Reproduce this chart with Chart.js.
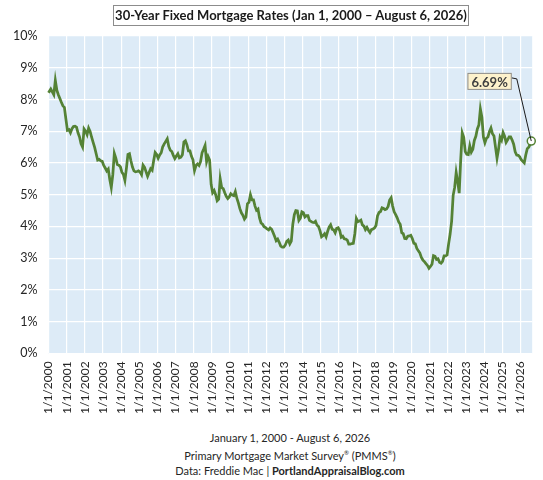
<!DOCTYPE html>
<html>
<head>
<meta charset="utf-8">
<script src="https://cdn.jsdelivr.net/npm/chart.js@4.4.1/dist/chart.umd.min.js"></script>
<style>
  html, body { margin:0; padding:0; background:#fff; }
  body { width:543px; height:480px; position:relative; overflow:hidden; font-family: Lato, "Open Sans", sans-serif; color:#262626; }
  #title { position:absolute; top:5px; left:113px; width:356px; height:21px; border:1px solid #8c8c8c; box-sizing:border-box;
           font-weight:bold; font-size:13px; line-height:19px; text-align:center; color:#1a1a1a; white-space:nowrap; }
  #wrap { position:absolute; left:0; top:0; width:543px; height:428px; }
  #footer { position:absolute; left:0; top:430px; width:580px; text-align:center; font-size:11px; line-height:15px; color:#262626; }
  #footer sup { font-size:6px; }
</style>
</head>
<body>
<div id="wrap"><canvas id="c"></canvas></div>
<div id="title">30-Year Fixed Mortgage Rates (Jan 1, 2000 – August 6, 2026)</div>
<div id="footer">
  January 1, 2000 - August 6, 2026<br>
  Primary Mortgage Market Survey<sup>®</sup> (PMMS<sup>®</sup>)<br>
  Data: Freddie Mac | <b>PortlandAppraisalBlog.com</b>
</div>
<script>
// Monthly 30-year fixed rate (%), Jan 2000 .. Jul 2026
const startYear = 2000;
const monthlyRates = [
  8.21, 8.33, 8.24, 8.15, 8.60, 8.29, 8.15, 8.03, 7.91, 7.80, 7.75, 7.38, // 2000
  7.03, 7.05, 6.95, 7.08, 7.15, 7.16, 7.13, 6.95, 6.82, 6.60, 6.50, 7.07, // 2001
  7.00, 6.89, 7.10, 6.99, 6.81, 6.65, 6.49, 6.29, 6.09, 6.11, 6.07, 6.05, // 2002
  5.92, 5.84, 5.75, 5.81, 5.48, 5.23, 5.63, 6.30, 6.15, 5.95, 5.93, 5.88, // 2003
  5.71, 5.64, 5.45, 5.83, 6.27, 6.29, 6.06, 5.87, 5.75, 5.72, 5.73, 5.75, // 2004
  5.71, 5.63, 5.93, 5.86, 5.72, 5.58, 5.70, 5.82, 5.77, 6.07, 6.33, 6.27, // 2005
  6.15, 6.25, 6.32, 6.51, 6.60, 6.68, 6.76, 6.52, 6.40, 6.36, 6.24, 6.14, // 2006
  6.22, 6.29, 6.16, 6.18, 6.26, 6.66, 6.70, 6.57, 6.38, 6.38, 6.21, 6.10, // 2007
  5.76, 5.92, 5.97, 5.92, 6.04, 6.32, 6.43, 6.55, 6.04, 6.20, 6.09, 5.33, // 2008
  5.06, 5.13, 5.00, 4.81, 4.86, 5.50, 5.22, 5.19, 5.06, 4.95, 4.88, 4.93, // 2009
  5.03, 4.99, 4.97, 5.10, 4.89, 4.74, 4.56, 4.43, 4.35, 4.23, 4.30, 4.71, // 2010
  4.76, 5.00, 4.84, 4.84, 4.64, 4.51, 4.55, 4.27, 4.11, 4.07, 3.99, 3.96, // 2011
  3.92, 3.89, 3.95, 3.91, 3.80, 3.68, 3.55, 3.60, 3.50, 3.38, 3.35, 3.35, // 2012
  3.41, 3.53, 3.57, 3.45, 3.54, 4.07, 4.37, 4.50, 4.49, 4.19, 4.26, 4.46, // 2013
  4.43, 4.30, 4.34, 4.34, 4.19, 4.16, 4.13, 4.12, 4.16, 4.04, 4.00, 3.86, // 2014
  3.67, 3.71, 3.77, 3.67, 3.84, 3.98, 4.05, 3.91, 3.89, 3.80, 3.94, 3.96, // 2015
  3.87, 3.66, 3.69, 3.61, 3.60, 3.57, 3.44, 3.44, 3.46, 3.47, 3.77, 4.25, // 2016
  4.15, 4.17, 4.20, 4.05, 4.01, 3.90, 3.97, 3.88, 3.81, 3.90, 3.92, 3.95, // 2017
  4.03, 4.33, 4.44, 4.47, 4.59, 4.57, 4.53, 4.55, 4.63, 4.83, 4.90, 4.64, // 2018
  4.46, 4.37, 4.27, 4.14, 4.07, 3.80, 3.77, 3.62, 3.61, 3.69, 3.70, 3.72, // 2019
  3.62, 3.47, 3.45, 3.31, 3.23, 3.16, 3.02, 2.94, 2.89, 2.83, 2.77, 2.68, // 2020
  2.74, 2.81, 3.08, 3.06, 2.96, 2.98, 2.87, 2.84, 2.90, 3.07, 3.07, 3.10, // 2021
  3.45, 3.76, 4.17, 4.98, 5.23, 5.70, 5.41, 5.05, 6.11, 6.95, 6.81, 6.36, // 2022
  6.27, 6.26, 6.54, 6.34, 6.43, 6.71, 6.84, 7.07, 7.20, 7.70, 7.44, 6.82, // 2023
  6.64, 6.78, 6.82, 6.99, 7.10, 6.92, 6.85, 6.50, 6.15, 6.43, 6.81, 6.72, // 2024
  6.96, 6.84, 6.65, 6.73, 6.82, 6.82, 6.72, 6.59, 6.35, 6.25, 6.24, 6.19, // 2025
  6.10, 6.05, 6.00, 6.25, 6.45, 6.50, 6.60                                // 2026
];
const lastDate = [2026, 8, 6];
const lastRate = 6.69;
const yearTicks = [2000,2001,2002,2003,2004,2005,2006,2007,2008,2009,2010,2011,2012,2013,
                   2014,2015,2016,2017,2018,2019,2020,2021,2022,2023,2024,2025,2026];
const pctTicks = [0,1,2,3,4,5,6,7,8,9,10];

// build points (decimal year, rate)
const pts = monthlyRates.map((r, i) => ({ x: startYear + (i + 0.5) / 12, y: r }));
pts[0].x = startYear;
const dayOfYear = (Date.UTC(lastDate[0], lastDate[1]-1, lastDate[2]) - Date.UTC(lastDate[0],0,1)) / 86400000;
const lastX = lastDate[0] + dayOfYear / 365;
pts.push({ x: lastX, y: lastRate });
const lastIdx = pts.length - 1;

const GREEN = '#548235';

const bgPlugin = {
  id: 'plotbg',
  beforeDraw(chart) {
    const a = chart.chartArea, ctx = chart.ctx;
    ctx.save(); ctx.fillStyle = '#DDEBF7';
    ctx.fillRect(a.left, a.top, a.right - a.left, a.bottom - a.top);
    ctx.restore();
  }
};

const labelPlugin = {
  id: 'lastLabel',
  afterDatasetsDraw(chart) {
    const xs = chart.scales.x, ys = chart.scales.y, ctx = chart.ctx;
    const px = xs.getPixelForValue(lastX), py = ys.getPixelForValue(lastRate);
    const text = lastRate.toFixed(2) + '%';
    ctx.save();
    ctx.font = 'bold 13px Lato, "Open Sans", sans-serif';
    const tw = ctx.measureText(text).width;
    const bx = xs.getPixelForValue(2024.3), by = ys.getPixelForValue(8.57);
    const w = tw + 8, h = 17;
    const left = bx - w / 2, top = by - h / 2;
    // leader line
    ctx.strokeStyle = '#1a1a1a'; ctx.lineWidth = 1;
    ctx.beginPath();
    ctx.moveTo(left + w, top + 5);
    ctx.lineTo(left + w + 5, top + 6);
    ctx.lineTo(px, py);
    ctx.stroke();
    // box
    ctx.fillStyle = '#FDF2CC';
    ctx.fillRect(left, top, w, h);
    ctx.strokeStyle = '#8c8c8c';
    ctx.strokeRect(left + 0.5, top + 0.5, w - 1, h - 1);
    ctx.fillStyle = '#404040';
    ctx.textAlign = 'center'; ctx.textBaseline = 'middle';
    ctx.fillText(text, bx, by + 1);
    ctx.restore();
  }
};

new Chart(document.getElementById('c'), {
  type: 'line',
  data: {
    datasets: [{
      data: pts,
      borderColor: GREEN,
      borderWidth: 2.75,
      tension: 0,
      clip: false,
      pointRadius: ctx => ctx.dataIndex === lastIdx ? 4 : 0,
      pointBackgroundColor: '#ffffff',
      pointBorderColor: GREEN,
      pointBorderWidth: 1.5,
      pointHoverRadius: 0
    }]
  },
  options: {
    responsive: true,
    maintainAspectRatio: false,
    animation: false,
    events: [],
    layout: { padding: { left: 2, right: 2, top: 36, bottom: 6 } },
    plugins: { legend: { display: false }, tooltip: { enabled: false } },
    scales: {
      x: {
        type: 'linear',
        min: startYear,
        max: lastX + 0.05,
        afterBuildTicks: s => { s.ticks = yearTicks.map(v => ({ value: v })); },
        grid: { color: '#ffffff', lineWidth: 1.2, drawTicks: false },
        border: { display: false },
        ticks: {
          autoSkip: false, maxRotation: 90, minRotation: 90, padding: 8,
          color: '#262626', font: { family: 'Lato, "Open Sans", sans-serif', size: 12 },
          callback: v => '1/1/' + v
        }
      },
      y: {
        min: 0, max: 10,
        afterBuildTicks: s => { s.ticks = pctTicks.map(v => ({ value: v })); },
        grid: { color: '#ffffff', lineWidth: 1.2, drawTicks: false },
        border: { display: false },
        ticks: {
          padding: 11, color: '#262626', font: { family: 'Lato, "Open Sans", sans-serif', size: 12.5 },
          callback: v => v + '%'
        }
      }
    }
  },
  plugins: [bgPlugin, labelPlugin]
});
</script>
</body>
</html>
